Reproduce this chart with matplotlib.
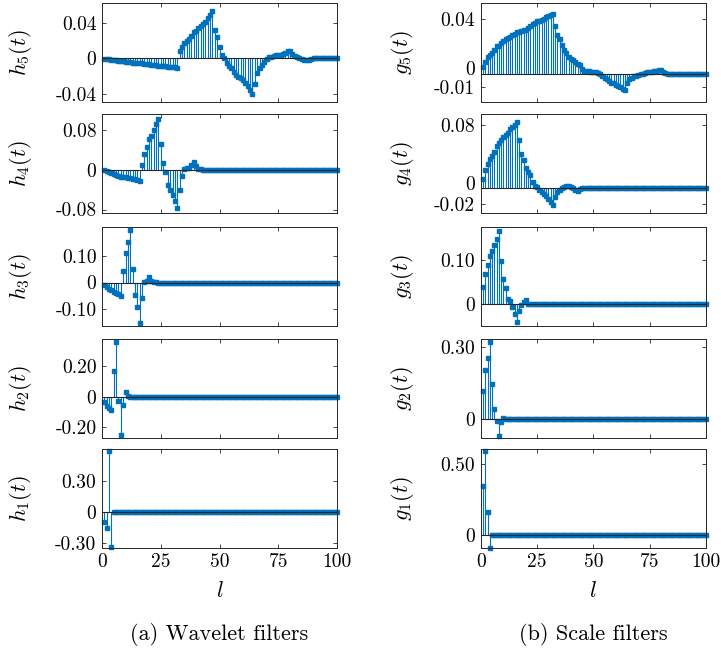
import matplotlib
matplotlib.use("Agg")
import matplotlib.pyplot as plt
import matplotlib.transforms as mtransforms
import numpy as np

# filter taps, index l = 1..100
l = np.arange(1, 101)

h5 = [-0.0005, -0.001, -0.0015, -0.002, -0.002, -0.0025, -0.003, -0.003, -0.0035, -0.004,
      -0.004, -0.0045, -0.005, -0.005, -0.0055, -0.006, -0.006, -0.0065, -0.007, -0.007,
      -0.0075, -0.008, -0.008, -0.0085, -0.009, -0.009, -0.009, -0.0095, -0.0095, -0.0095,
      -0.010, -0.011, 0.008, 0.013, 0.017, 0.019, 0.021, 0.025, 0.029, 0.031,
      0.034, 0.036, 0.038, 0.041, 0.045, 0.048, 0.053, 0.032, 0.024, 0.013,
      0.004, 0.000, -0.006, -0.009, -0.011, -0.016, -0.019, -0.021, -0.022, -0.025,
      -0.028, -0.032, -0.036, -0.041, -0.029, -0.017, -0.011, -0.008, -0.004, -0.001,
      0.001, 0.001, 0.002, 0.003, 0.003, 0.004, 0.005, 0.006, 0.008, 0.0084,
      0.005, 0.002, 0.001, 0.000, -0.001, -0.002, -0.002, -0.002, -0.001, 0.000,
      0.0003, 0.0003, 0.0003, 0.0003, 0.0003, 0.0003, 0.0003, 0.0003, 0.0003, 0.0003]

h4 = [-0.001, -0.003, -0.005, -0.007, -0.009, -0.010, -0.012, -0.014, -0.015, -0.015,
      -0.016, -0.017, -0.018, -0.019, -0.020, -0.023, 0.009, 0.031, 0.046, 0.061,
      0.068, 0.080, 0.093, 0.103, 0.051, 0.014, -0.005, -0.030, -0.040, -0.050,
      -0.063, -0.077, -0.040, -0.013, 0.001, 0.003, 0.004, 0.009, 0.015, 0.007,
      0.002, 0.001, 0.0, 0.0, 0.0, 0.0, 0.0, 0.0, 0.0, 0.0,
      0.0, 0.0, 0.0, 0.0, 0.0, 0.0, 0.0, 0.0, 0.0, 0.0,
      0.0, 0.0, 0.0, 0.0, 0.0, 0.0, 0.0, 0.0, 0.0, 0.0,
      0.0, 0.0, 0.0, 0.0, 0.0, 0.0, 0.0, 0.0, 0.0, 0.0,
      0.0, 0.0, 0.0, 0.0, 0.0, 0.0, 0.0, 0.0, 0.0, 0.0,
      0.0, 0.0, 0.0, 0.0, 0.0, 0.0, 0.0, 0.0, 0.0, 0.0]

h3 = [-0.010, -0.018, -0.025, -0.030, -0.035, -0.040, -0.044, -0.049, 0.044, 0.112,
      0.151, 0.199, 0.050, -0.048, -0.094, -0.151, -0.058, 0.003, 0.006, 0.021,
      0.006, 0.002, 0.001, 0.0, 0.0, 0.0, 0.0, 0.0, 0.0, 0.0,
      0.0, 0.0, 0.0, 0.0, 0.0, 0.0, 0.0, 0.0, 0.0, 0.0,
      0.0, 0.0, 0.0, 0.0, 0.0, 0.0, 0.0, 0.0, 0.0, 0.0,
      0.0, 0.0, 0.0, 0.0, 0.0, 0.0, 0.0, 0.0, 0.0, 0.0,
      0.0, 0.0, 0.0, 0.0, 0.0, 0.0, 0.0, 0.0, 0.0, 0.0,
      0.0, 0.0, 0.0, 0.0, 0.0, 0.0, 0.0, 0.0, 0.0, 0.0,
      0.0, 0.0, 0.0, 0.0, 0.0, 0.0, 0.0, 0.0, 0.0, 0.0,
      0.0, 0.0, 0.0, 0.0, 0.0, 0.0, 0.0, 0.0, 0.0, 0.0]

h2 = [-0.032, -0.057, -0.072, -0.085, 0.170, 0.357, -0.026, -0.249, -0.055, 0.032,
      0.003, 0.002, 0.001, 0.0, 0.0, 0.0, 0.0, 0.0, 0.0, 0.0,
      0.0, 0.0, 0.0, 0.0, 0.0, 0.0, 0.0, 0.0, 0.0, 0.0,
      0.0, 0.0, 0.0, 0.0, 0.0, 0.0, 0.0, 0.0, 0.0, 0.0,
      0.0, 0.0, 0.0, 0.0, 0.0, 0.0, 0.0, 0.0, 0.0, 0.0,
      0.0, 0.0, 0.0, 0.0, 0.0, 0.0, 0.0, 0.0, 0.0, 0.0,
      0.0, 0.0, 0.0, 0.0, 0.0, 0.0, 0.0, 0.0, 0.0, 0.0,
      0.0, 0.0, 0.0, 0.0, 0.0, 0.0, 0.0, 0.0, 0.0, 0.0,
      0.0, 0.0, 0.0, 0.0, 0.0, 0.0, 0.0, 0.0, 0.0, 0.0,
      0.0, 0.0, 0.0, 0.0, 0.0, 0.0, 0.0, 0.0, 0.0, 0.0]

h1 = [-0.093, -0.153, 0.594, -0.340, 0.002, -0.001, 0.0, 0.0, 0.0, 0.0,
      0.0, 0.0, 0.0, 0.0, 0.0, 0.0, 0.0, 0.0, 0.0, 0.0,
      0.0, 0.0, 0.0, 0.0, 0.0, 0.0, 0.0, 0.0, 0.0, 0.0,
      0.0, 0.0, 0.0, 0.0, 0.0, 0.0, 0.0, 0.0, 0.0, 0.0,
      0.0, 0.0, 0.0, 0.0, 0.0, 0.0, 0.0, 0.0, 0.0, 0.0,
      0.0, 0.0, 0.0, 0.0, 0.0, 0.0, 0.0, 0.0, 0.0, 0.0,
      0.0, 0.0, 0.0, 0.0, 0.0, 0.0, 0.0, 0.0, 0.0, 0.0,
      0.0, 0.0, 0.0, 0.0, 0.0, 0.0, 0.0, 0.0, 0.0, 0.0,
      0.0, 0.0, 0.0, 0.0, 0.0, 0.0, 0.0, 0.0, 0.0, 0.0,
      0.0, 0.0, 0.0, 0.0, 0.0, 0.0, 0.0, 0.0, 0.0, 0.0]

g5 = [0.005, 0.0085, 0.012, 0.0135, 0.015, 0.017, 0.020, 0.020, 0.022, 0.0235,
      0.025, 0.026, 0.027, 0.0285, 0.029, 0.030, 0.030, 0.031, 0.032, 0.032,
      0.0335, 0.035, 0.036, 0.037, 0.038, 0.0385, 0.039, 0.040, 0.041, 0.042,
      0.0425, 0.0435, 0.035, 0.0285, 0.025, 0.021, 0.017, 0.015, 0.012, 0.011,
      0.0098, 0.0085, 0.007, 0.006, 0.0035, 0.002, 0.0018, 0.0018, 0.001, 0.001,
      0.001, 0.0008, 0.000, -0.0015, -0.003, -0.004, -0.005, -0.0065, -0.007, -0.008,
      -0.009, -0.0098, -0.011, -0.012, -0.0065, -0.004, -0.003, -0.002, -0.0015, -0.0008,
      0.000, 0.000, 0.0005, 0.001, 0.0015, 0.0015, 0.0018, 0.002, 0.0025, 0.0028,
      0.001, 0.0003, 0.0, 0.0, 0.0, 0.0, 0.0, 0.0, 0.0, 0.0,
      0.0, 0.0, 0.0, 0.0, 0.0, 0.0, 0.0, 0.0, 0.0, 0.0]

g4 = [0.012, 0.023, 0.030, 0.037, 0.040, 0.045, 0.053, 0.057, 0.060, 0.064,
      0.067, 0.070, 0.074, 0.077, 0.080, 0.083, 0.060, 0.043, 0.035, 0.025,
      0.021, 0.016, 0.008, 0.003, 0.001, -0.002, -0.005, -0.007, -0.010, -0.013,
      -0.017, -0.021, -0.011, -0.005, -0.002, 0.000, 0.002, 0.003, 0.003, 0.002,
      0.000, -0.002, -0.003, -0.001, 0.0, 0.0, 0.0, 0.0, 0.0, 0.0,
      0.0, 0.0, 0.0, 0.0, 0.0, 0.0, 0.0, 0.0, 0.0, 0.0,
      0.0, 0.0, 0.0, 0.0, 0.0, 0.0, 0.0, 0.0, 0.0, 0.0,
      0.0, 0.0, 0.0, 0.0, 0.0, 0.0, 0.0, 0.0, 0.0, 0.0,
      0.0, 0.0, 0.0, 0.0, 0.0, 0.0, 0.0, 0.0, 0.0, 0.0,
      0.0, 0.0, 0.0, 0.0, 0.0, 0.0, 0.0, 0.0, 0.0, 0.0]

g3 = [0.039, 0.068, 0.089, 0.110, 0.120, 0.135, 0.148, 0.167, 0.098, 0.057,
      0.036, 0.011, 0.005, -0.008, -0.024, -0.042, -0.017, -0.004, 0.004, 0.008,
      0.0, 0.0, 0.0, 0.0, 0.0, 0.0, 0.0, 0.0, 0.0, 0.0,
      0.0, 0.0, 0.0, 0.0, 0.0, 0.0, 0.0, 0.0, 0.0, 0.0,
      0.0, 0.0, 0.0, 0.0, 0.0, 0.0, 0.0, 0.0, 0.0, 0.0,
      0.0, 0.0, 0.0, 0.0, 0.0, 0.0, 0.0, 0.0, 0.0, 0.0,
      0.0, 0.0, 0.0, 0.0, 0.0, 0.0, 0.0, 0.0, 0.0, 0.0,
      0.0, 0.0, 0.0, 0.0, 0.0, 0.0, 0.0, 0.0, 0.0, 0.0,
      0.0, 0.0, 0.0, 0.0, 0.0, 0.0, 0.0, 0.0, 0.0, 0.0,
      0.0, 0.0, 0.0, 0.0, 0.0, 0.0, 0.0, 0.0, 0.0, 0.0]

g2 = [0.116, 0.206, 0.256, 0.321, 0.148, 0.040, -0.008, -0.070, -0.014, 0.006,
      0.0, 0.0, 0.0, 0.0, 0.0, 0.0, 0.0, 0.0, 0.0, 0.0,
      0.0, 0.0, 0.0, 0.0, 0.0, 0.0, 0.0, 0.0, 0.0, 0.0,
      0.0, 0.0, 0.0, 0.0, 0.0, 0.0, 0.0, 0.0, 0.0, 0.0,
      0.0, 0.0, 0.0, 0.0, 0.0, 0.0, 0.0, 0.0, 0.0, 0.0,
      0.0, 0.0, 0.0, 0.0, 0.0, 0.0, 0.0, 0.0, 0.0, 0.0,
      0.0, 0.0, 0.0, 0.0, 0.0, 0.0, 0.0, 0.0, 0.0, 0.0,
      0.0, 0.0, 0.0, 0.0, 0.0, 0.0, 0.0, 0.0, 0.0, 0.0,
      0.0, 0.0, 0.0, 0.0, 0.0, 0.0, 0.0, 0.0, 0.0, 0.0,
      0.0, 0.0, 0.0, 0.0, 0.0, 0.0, 0.0, 0.0, 0.0, 0.0]

g1 = [0.347, 0.594, 0.158, -0.094, 0.0, 0.0, 0.0, 0.0, 0.0, 0.0,
      0.0, 0.0, 0.0, 0.0, 0.0, 0.0, 0.0, 0.0, 0.0, 0.0,
      0.0, 0.0, 0.0, 0.0, 0.0, 0.0, 0.0, 0.0, 0.0, 0.0,
      0.0, 0.0, 0.0, 0.0, 0.0, 0.0, 0.0, 0.0, 0.0, 0.0,
      0.0, 0.0, 0.0, 0.0, 0.0, 0.0, 0.0, 0.0, 0.0, 0.0,
      0.0, 0.0, 0.0, 0.0, 0.0, 0.0, 0.0, 0.0, 0.0, 0.0,
      0.0, 0.0, 0.0, 0.0, 0.0, 0.0, 0.0, 0.0, 0.0, 0.0,
      0.0, 0.0, 0.0, 0.0, 0.0, 0.0, 0.0, 0.0, 0.0, 0.0,
      0.0, 0.0, 0.0, 0.0, 0.0, 0.0, 0.0, 0.0, 0.0, 0.0,
      0.0, 0.0, 0.0, 0.0, 0.0, 0.0, 0.0, 0.0, 0.0, 0.0]

wavelet_series = [h5, h4, h3, h2, h1]
scale_series = [g5, g4, g3, g2, g1]
wavelet_labels = [r'$h_5(t)$', r'$h_4(t)$', r'$h_3(t)$', r'$h_2(t)$', r'$h_1(t)$']
scale_labels = [r'$g_5(t)$', r'$g_4(t)$', r'$g_3(t)$', r'$g_2(t)$', r'$g_1(t)$']

wavelet_yticks = [[-0.04, 0, 0.04], [-0.08, 0, 0.08], [-0.10, 0, 0.10],
                  [-0.20, 0, 0.20], [-0.30, 0, 0.30]]
wavelet_yticklabels = [['-0.04', '0', '0.04'], ['-0.08', '0', '0.08'], ['-0.10', '0', '0.10'],
                       ['-0.20', '0', '0.20'], ['-0.30', '0', '0.30']]
scale_yticks = [[-0.01, 0, 0.04], [-0.02, 0, 0.08], [0, 0.10], [0, 0.30], [0, 0.50]]
scale_yticklabels = [['-0.01', '0', '0.04'], ['-0.02', '0', '0.08'], ['0', '0.10'],
                     ['0', '0.30'], ['0', '0.50']]
xticks = [0, 25, 50, 75, 100]

wavelet_ylims = [(-0.0495, 0.062), (-0.087, 0.112), (-0.164, 0.209),
                 (-0.270, 0.379), (-0.348, 0.61)]
scale_ylims = [(-0.0206, 0.0514), (-0.0312, 0.0932), (-0.0515, 0.176),
               (-0.080, 0.335), (-0.094, 0.606)]

BLUE = '#0072BD'
EDGE = '#262626'

plt.rcParams.update({
    'font.family': 'cmr10',
    'mathtext.fontset': 'cm',
    'axes.unicode_minus': False,
    'font.size': 14,
})


def draw_stem(fig, ax, y, ylim, yticks, yticklabels, ylabel, bottom_row):
    markerline, stemlines, baseline = ax.stem(l, y, basefmt=' ')
    stemlines.set_color(BLUE)
    stemlines.set_linewidth(0.8)
    markerline.set_marker('s')
    markerline.set_markersize(3.0)
    markerline.set_color(BLUE)
    markerline.set_markerfacecolor(BLUE)
    markerline.set_clip_on(False)
    ax.axhline(0, color=EDGE, linewidth=0.8, zorder=3)

    ax.set_xlim(0, 100)
    ax.set_ylim(*ylim)
    ax.set_xticks(xticks)
    ax.set_yticks(yticks)
    ax.set_yticklabels(yticklabels)
    if bottom_row:
        ax.set_xticklabels([str(t) for t in xticks])
        ax.set_xlabel(r'$l$', fontsize=16, labelpad=7)
    else:
        ax.set_xticklabels([])
    ax.tick_params(direction='in', length=3, width=0.6, top=True, right=True,
                   colors=EDGE, labelcolor='black', labelsize=14, pad=4)
    for spine in ax.spines.values():
        spine.set_linewidth(0.7)
        spine.set_color(EDGE)
    ax.set_ylabel(ylabel, fontsize=16)
    ax.yaxis.set_label_coords(-0.29, 0.5)

    # a zero label squeezed next to a close negative tick sits a bit higher
    if yticks[0] < 0 and yticks[1] == 0 and abs(yticks[0]) < yticks[2] / 3:
        shift = mtransforms.ScaledTranslation(0, 4 / 72, fig.dpi_scale_trans)
        zero_label = ax.get_yticklabels()[1]
        zero_label.set_transform(zero_label.get_transform() + shift)


fig = plt.figure(figsize=(7.21, 6.55), dpi=100)

row_bottoms = [0.8443, 0.6748, 0.5023, 0.3313, 0.1634]
row_height = 0.151
left_col = (0.1415, 0.326)
right_col = (0.667, 0.312)

for i in range(5):
    ax = fig.add_axes([left_col[0], row_bottoms[i], left_col[1], row_height])
    draw_stem(fig, ax, wavelet_series[i], wavelet_ylims[i], wavelet_yticks[i],
              wavelet_yticklabels[i], wavelet_labels[i], i == 4)
    ax = fig.add_axes([right_col[0], row_bottoms[i], right_col[1], row_height])
    draw_stem(fig, ax, scale_series[i], scale_ylims[i], scale_yticks[i],
              scale_yticklabels[i], scale_labels[i], i == 4)

fig.text(left_col[0] + left_col[1] / 2, 0.032, '(a) Wavelet filters',
         ha='center', va='center', fontsize=16)
fig.text(right_col[0] + right_col[1] / 2, 0.032, '(b) Scale filters',
         ha='center', va='center', fontsize=16)

fig.savefig('out.png', dpi=100)
